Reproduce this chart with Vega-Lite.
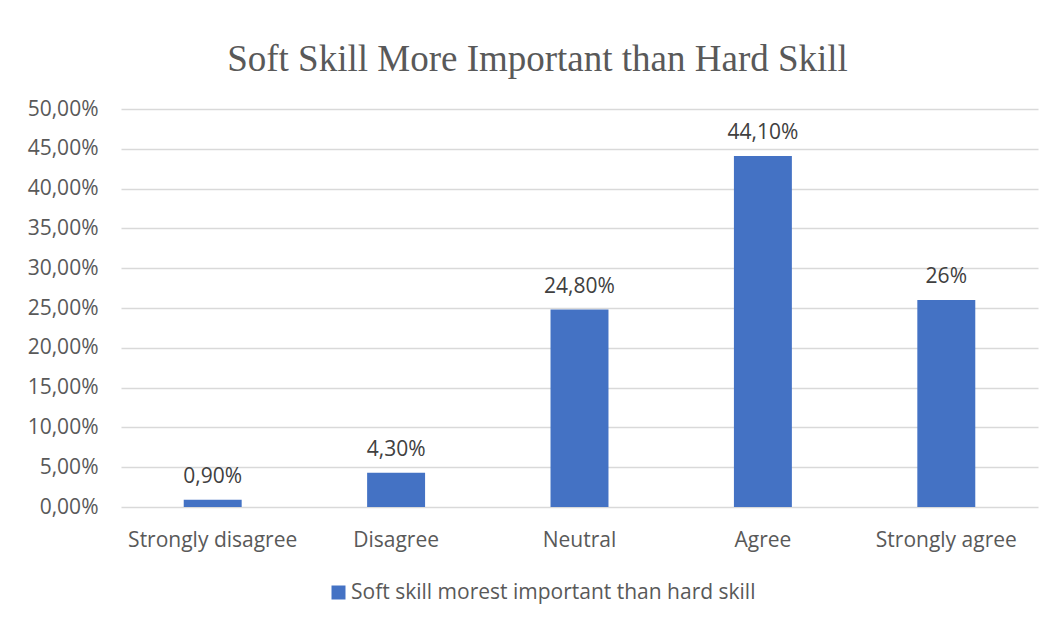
{
  "$schema": "https://vega.github.io/schema/vega-lite/v6.json",
  "width": 917,
  "height": 398,
  "autosize": {"type": "none"},
  "padding": {"left": 121, "top": 109, "right": 15, "bottom": 114},
  "background": "white",
  "title": {
    "text": "Soft Skill More Important than Hard Skill",
    "font": "Liberation Serif",
    "fontSize": 37,
    "fontWeight": "normal",
    "color": "#595959",
    "anchor": "middle",
    "dx": -42,
    "dy": 40,
    "baseline": "alphabetic",
    "offset": 30
  },
  "data": {
    "values": [
      {"category": "Strongly disagree", "value": 0.009, "label": "0,90%", "series": "Soft skill morest important than hard skill"},
      {"category": "Disagree", "value": 0.043, "label": "4,30%", "series": "Soft skill morest important than hard skill"},
      {"category": "Neutral", "value": 0.248, "label": "24,80%", "series": "Soft skill morest important than hard skill"},
      {"category": "Agree", "value": 0.441, "label": "44,10%", "series": "Soft skill morest important than hard skill"},
      {"category": "Strongly agree", "value": 0.26, "label": "26%", "series": "Soft skill morest important than hard skill"}
    ]
  },
  "encoding": {
    "x": {
      "field": "category",
      "type": "nominal",
      "sort": null,
      "scale": {"paddingInner": 0.684, "paddingOuter": 0.342},
      "axis": {
        "title": null,
        "labelAngle": 0,
        "labelFont": "Open Sans",
        "labelFontSize": 21,
        "labelColor": "#595959",
        "labelPadding": 22,
        "ticks": false,
        "domain": false,
        "grid": false
      }
    },
    "y": {
      "field": "value",
      "type": "quantitative",
      "scale": {"domain": [0, 0.5], "nice": false},
      "axis": {
        "title": null,
        "values": [0, 0.05, 0.1, 0.15, 0.2, 0.25, 0.3, 0.35, 0.4, 0.45, 0.5],
        "labelExpr": "replace(format(datum.value, '.2%'), '.', ',')",
        "labelFont": "Open Sans",
        "labelFontSize": 21,
        "labelColor": "#595959",
        "labelPadding": 23,
        "ticks": false,
        "domain": false,
        "grid": true,
        "gridColor": "#D9D9D9",
        "gridWidth": 1.5
      }
    }
  },
  "layer": [
    {
      "mark": {"type": "bar", "color": "#4472C4"},
      "encoding": {
        "color": {
          "field": "series",
          "type": "nominal",
          "scale": {"range": ["#4472C4"]},
          "legend": {
            "title": null,
            "orient": "none",
            "legendX": 207,
            "legendY": 473,
            "symbolType": "square",
            "symbolSize": 196,
            "symbolStrokeWidth": 0,
            "symbolOpacity": 1,
            "labelFont": "Open Sans",
            "labelFontSize": 21,
            "labelColor": "#595959",
            "labelOffset": 2,
            "labelLimit": 600
          }
        }
      }
    },
    {
      "mark": {
        "type": "text",
        "baseline": "alphabetic",
        "dy": -17,
        "font": "Open Sans",
        "fontSize": 21,
        "color": "#404040"
      },
      "encoding": {
        "text": {"field": "label"}
      }
    }
  ],
  "config": {
    "view": {"stroke": null}
  }
}
